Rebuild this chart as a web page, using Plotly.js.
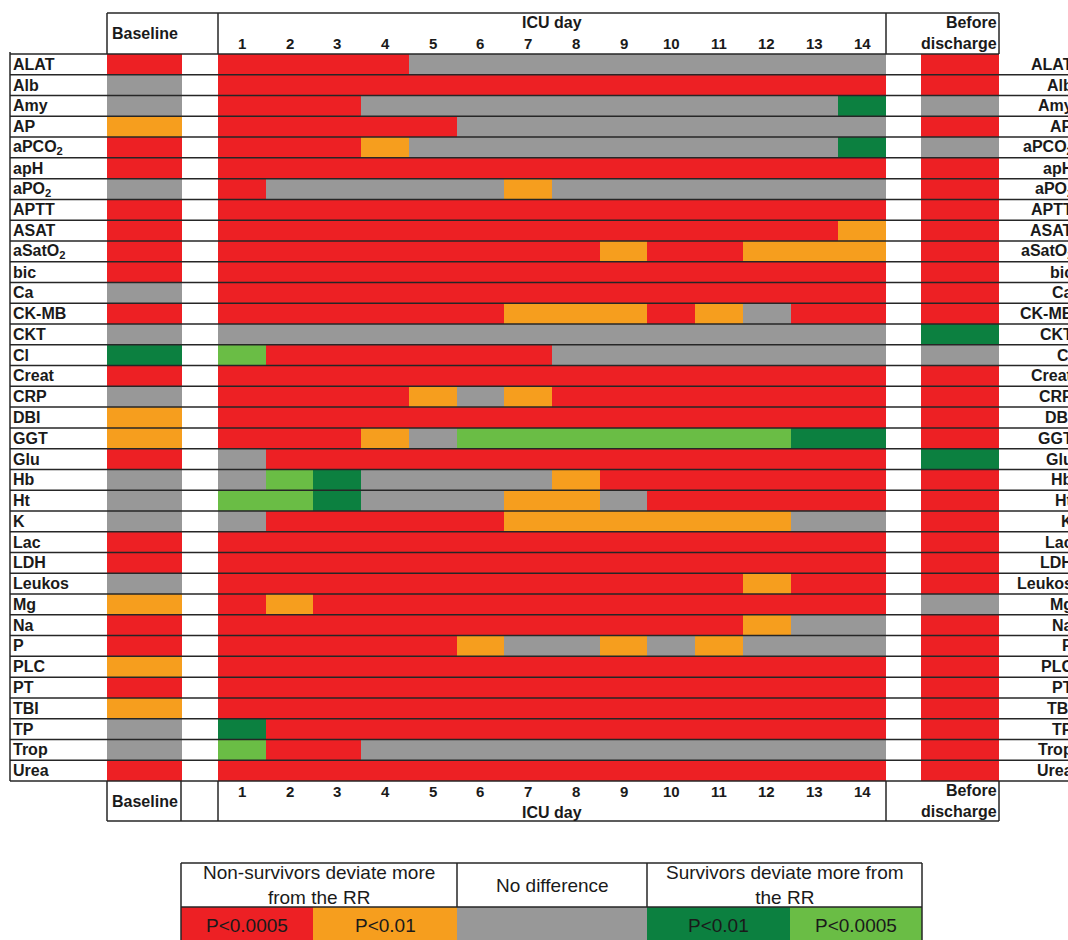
<!DOCTYPE html>
<html><head><meta charset="utf-8">
<script src="https://cdn.plot.ly/plotly-3.0.1.min.js"></script>
<style>html,body{margin:0;padding:0;background:#fff}</style>
</head><body><div id="chart" style="width:1068px;height:940px"></div>
<script>
// ---- data ----
const params = ['ALAT','Alb','Amy','AP','aPCO2','apH','aPO2','APTT','ASAT','aSatO2','bic','Ca','CK-MB','CKT','Cl','Creat','CRP','DBI','GGT','Glu','Hb','Ht','K','Lac','LDH','Leukos','Mg','Na','P','PLC','PT','TBI','TP','Trop','Urea'];
// codes: R = non-survivors P<0.0005, O = non-survivors P<0.01, G = no difference, D = survivors P<0.01, L = survivors P<0.0005
const baseline  = ['R','G','G','O','R','R','G','R','R','R','R','G','R','G','D','R','G','O','O','R','G','G','G','R','R','G','O','R','R','O','R','O','G','G','R'];
const discharge = ['R','R','G','R','G','R','R','R','R','R','R','R','R','D','G','R','R','R','R','D','R','R','R','R','R','R','G','R','R','R','R','R','R','R','R'];
const icuDays = [
 'RRRRGGGGGGGGGG', // ALAT
 'RRRRRRRRRRRRRR', // Alb
 'RRRGGGGGGGGGGD', // Amy
 'RRRRRGGGGGGGGG', // AP
 'RRROGGGGGGGGGD', // aPCO2
 'RRRRRRRRRRRRRR', // apH
 'RGGGGGOGGGGGGG', // aPO2
 'RRRRRRRRRRRRRR', // APTT
 'RRRRRRRRRRRRRO', // ASAT
 'RRRRRRRRORROOO', // aSatO2
 'RRRRRRRRRRRRRR', // bic
 'RRRRRRRRRRRRRR', // Ca
 'RRRRRROOOROGRR', // CK-MB
 'GGGGGGGGGGGGGG', // CKT
 'LRRRRRRGGGGGGG', // Cl
 'RRRRRRRRRRRRRR', // Creat
 'RRRROGORRRRRRR', // CRP
 'RRRRRRRRRRRRRR', // DBI
 'RRROGLLLLLLLDD', // GGT
 'GRRRRRRRRRRRRR', // Glu
 'GLDGGGGORRRRRR', // Hb
 'LLDGGGOOGRRRRR', // Ht
 'GRRRRROOOOOOGG', // K
 'RRRRRRRRRRRRRR', // Lac
 'RRRRRRRRRRRRRR', // LDH
 'RRRRRRRRRRRORR', // Leukos
 'RORRRRRRRRRRRR', // Mg
 'RRRRRRRRRRROGG', // Na
 'RRRRROGGOGOGGG', // P
 'RRRRRRRRRRRRRR', // PLC
 'RRRRRRRRRRRRRR', // PT
 'RRRRRRRRRRRRRR', // TBI
 'DRRRRRRRRRRRRR', // TP
 'LRRGGGGGGGGGGG', // Trop
 'RRRRRRRRRRRRRR'  // Urea
];
const dayLabels = ['1','2','3','4','5','6','7','8','9','10','11','12','13','14'];
const codeValue = {G:0, R:1, O:2, D:3, L:4};
const palette = ['#989898','#ED2024','#F69E1E','#0C8040','#6ABD45'];
const legendGroups = ['Non-survivors deviate more<br>from the RR','No difference','Survivors deviate more from<br>the RR'];
const legendCodes = ['R','O','G','D','L'];
const legendP = ['P&lt;0.0005','P&lt;0.01','','P&lt;0.01','P&lt;0.0005'];

// ---- geometry helpers ----
const W = 1068, H = 940;
const px = x => x / W;
const py = y => 1 - y / H;
const tTop = 54, tBot = 781;
const n = params.length;
const rh = (tBot - tTop) / n;
const labels = params.map(p => p.replace(/O2$/, 'O<sub>2</sub>'));
const FONT = 'Liberation Sans, Arial, sans-serif';
const INK = '#1a1a1a';
const LINE = {color:'#262626', width:1.5};

const cs = [[0,palette[0]],[0.125,palette[0]],[0.125,palette[1]],[0.375,palette[1]],[0.375,palette[2]],[0.625,palette[2]],[0.625,palette[3]],[0.875,palette[3]],[0.875,palette[4]],[1,palette[4]]];
const common = {type:'heatmap', y: params, colorscale: cs, zmin:0, zmax:4, showscale:false, hoverinfo:'skip', xgap:0, ygap:0};

const traces = [
  Object.assign({}, common, {x: dayLabels, z: icuDays.map(s => s.split('').map(c => codeValue[c])), xaxis:'x', yaxis:'y'}),
  Object.assign({}, common, {x: ['Baseline'], z: baseline.map(c => [codeValue[c]]), xaxis:'x2', yaxis:'y'}),
  Object.assign({}, common, {x: ['Before discharge'], z: discharge.map(c => [codeValue[c]]), xaxis:'x3', yaxis:'y'})
];

const shapes = [];
const hline = (x0, x1, y) => shapes.push({type:'line', xref:'paper', yref:'paper', x0:px(x0), x1:px(x1), y0:py(y), y1:py(y), line:LINE, layer:'above'});
const vline = (x, y0, y1) => shapes.push({type:'line', xref:'paper', yref:'paper', x0:px(x), x1:px(x), y0:py(y0), y1:py(y1), line:LINE, layer:'above'});

// row separators (on the category axis boundaries)
for (let i = 0; i <= n; i++) {
  shapes.push({type:'line', xref:'paper', yref:'y', x0:px(10), x1: i === 0 ? px(999) : 1, y0:i-0.5, y1:i-0.5, line:LINE, layer:'above'});
}
vline(10, 52, tBot);
// top header box
hline(107, 999, 13);
[107, 218, 886, 999].forEach(x => vline(x, 13, tTop));
// bottom header box
hline(107, 999, 821);
[107, 181, 218, 886, 999].forEach(x => vline(x, tBot, 821));

// legend table
const legEdges = [181, 313, 457, 647, 790, 922];
const legTop = 863, legMid = 907, legBot = 941;
legendCodes.forEach((c, i) => {
  shapes.push({type:'rect', xref:'paper', yref:'paper', x0:px(legEdges[i]), x1:px(legEdges[i+1]), y0:py(legMid), y1:py(legBot), fillcolor: palette[codeValue[c]], line:{width:0}, layer:'below'});
});
hline(181, 922, legTop);
hline(181, 922, legMid);
vline(181, legTop, legBot);
vline(922, legTop, legBot);
vline(457, legTop, legMid);
vline(647, legTop, legMid);

const annotations = [];
const ann = o => annotations.push(Object.assign({showarrow:false, borderpad:0, borderwidth:0, xanchor:'center', font:{family:FONT, size:16, color:INK}}, o));

// row labels
labels.forEach((lab, i) => {
  ann({text:'<b>'+lab+'</b>', xref:'paper', x:px(13), xanchor:'left', yref:'y', y:i, yanchor:'middle'});
  ann({text:'<b>'+lab+'</b>', xref:'paper', x:px(1073), xanchor:'right', yref:'y', y:i, yanchor:'middle'});
});
// header texts
[[33.4, 22.4, 43.7], [801, 812, 791]].forEach(([bY, icuY, dayY]) => {
  ann({text:'<b>Baseline</b>', xref:'x2', x:0, yref:'paper', y:py(bY), yanchor:'middle'});
  ann({text:'<b>ICU day</b>', xref:'paper', x:px(552), yref:'paper', y:py(icuY), yanchor:'middle'});
  dayLabels.forEach((d, i) => ann({text:'<b>'+d+'</b>', xref:'x', x:i, yref:'paper', y:py(dayY), yanchor:'middle', font:{family:FONT, size:15, color:INK}}));
  ann({text:'<b>Before<br>discharge</b>', xref:'paper', x:px(997), xanchor:'right', align:'right', yref:'paper', y:py(bY), yanchor:'middle'});
});
// legend texts
const groupSpans = [[181,457],[457,647],[647,922]];
legendGroups.forEach((g, i) => {
  ann({text:g, xref:'paper', x:px((groupSpans[i][0]+groupSpans[i][1])/2), yref:'paper', y:py(885), yanchor:'middle', align:'center', font:{family:FONT, size:19, color:INK}});
});
legendP.forEach((t, i) => {
  if (!t) return;
  ann({text:t, xref:'paper', x:px((legEdges[i]+legEdges[i+1])/2), yref:'paper', y:py(925), yanchor:'middle', font:{family:FONT, size:19, color:INK}});
});

const hidden = {visible:false, type:'category', fixedrange:true};
const layout = {
  width: W, height: H,
  margin: {l:0, r:0, t:0, b:0, pad:0},
  paper_bgcolor:'#fff', plot_bgcolor:'#fff',
  showlegend:false, hovermode:false,
  xaxis: Object.assign({}, hidden, {domain:[px(218), px(886)], range:[-0.5, dayLabels.length-0.5], anchor:'y'}),
  xaxis2: Object.assign({}, hidden, {domain:[px(107), px(182)], range:[-0.5, 0.5], anchor:'y'}),
  xaxis3: Object.assign({}, hidden, {domain:[px(921), px(999)], range:[-0.5, 0.5], anchor:'y'}),
  yaxis: Object.assign({}, hidden, {domain:[0,1], categoryorder:'array', categoryarray:params, range:[(H-tTop)/rh - 0.5, -tTop/rh - 0.5], anchor:'x'}),
  shapes: shapes,
  annotations: annotations
};
Plotly.newPlot('chart', traces, layout, {staticPlot:true, displayModeBar:false});
</script>
</body></html>
